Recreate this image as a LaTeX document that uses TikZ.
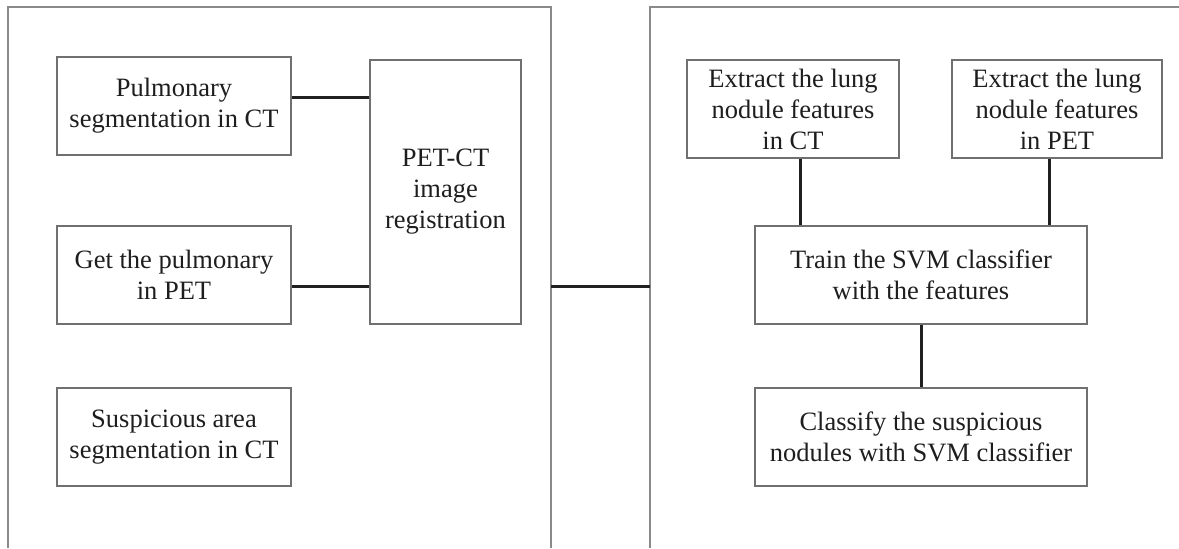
\documentclass[tikz,border=0pt]{standalone}
\usepackage{fontspec}
\setmainfont{Liberation Serif}
\definecolor{boxline}{HTML}{707070}
\definecolor{panelline}{HTML}{8A8A8A}
\definecolor{txt}{HTML}{1E1E1E}
\definecolor{conn}{HTML}{202020}
\tikzset{
  stepbox/.style={draw=boxline, line width=0.6pt, align=center, inner sep=0pt,
    text=txt, font=\fontsize{13.25pt}{15.5pt}\selectfont},
  panel/.style={draw=panelline, line width=1pt},
  link/.style={draw=conn, line width=1.5pt}
}
\begin{document}
\begin{tikzpicture}[x=0.5pt,y=-0.5pt]
\useasboundingbox (0,0) rectangle (1179,548);
% panels
\draw[panel] (8,548) -- (8,7) -- (551,7) -- (551,548);
\draw[panel] (650,548) -- (650,7) -- (1179,7);
\coordinate (lp) at (551,286.7);
\coordinate (rp) at (650,286.7);
% left boxes
\node[stepbox, minimum width=117pt, minimum height=49pt] (p1) at (174,106) {Pulmonary\\segmentation in CT};
\node[stepbox, minimum width=117pt, minimum height=49pt] (p2) at (174,275) {Get the pulmonary\\in PET};
\node[stepbox, minimum width=117pt, minimum height=49pt] (p3) at (174,437) {Suspicious area\\segmentation in CT};
\node[stepbox, minimum width=75.5pt, minimum height=132pt] (reg) at (445.5,192) {PET-CT\\image\\registration};
% right boxes
\node[stepbox, minimum width=106pt, minimum height=49pt] (e1) at (793,109) {Extract the lung\\nodule features\\in CT};
\node[stepbox, minimum width=105pt, minimum height=49pt] (e2) at (1057,109) {Extract the lung\\nodule features\\in PET};
\node[stepbox, minimum width=166pt, minimum height=49pt] (tr) at (921,275) {Train the SVM classifier\\with the features};
\node[stepbox, minimum width=166pt, minimum height=49pt] (cl) at (921,437) {Classify the suspicious\\nodules with SVM classifier};
% connectors
\coordinate (c1) at ([yshift=4.2pt]p1.east);
\coordinate (c2) at ([yshift=-5.85pt]p2.east);
\draw[link] (c1) -- (c1 -| reg.west);
\draw[link] (c2) -- (c2 -| reg.west);
\draw[link] (lp) -- (rp);
\coordinate (c3) at ([xshift=3.5pt]e1.south);
\coordinate (c4) at ([xshift=-3.85pt]e2.south);
\draw[link] (c3) -- (c3 |- tr.north);
\draw[link] (c4) -- (c4 |- tr.north);
\draw[link] (tr.south) -- (cl.north);
\end{tikzpicture}
\end{document}
